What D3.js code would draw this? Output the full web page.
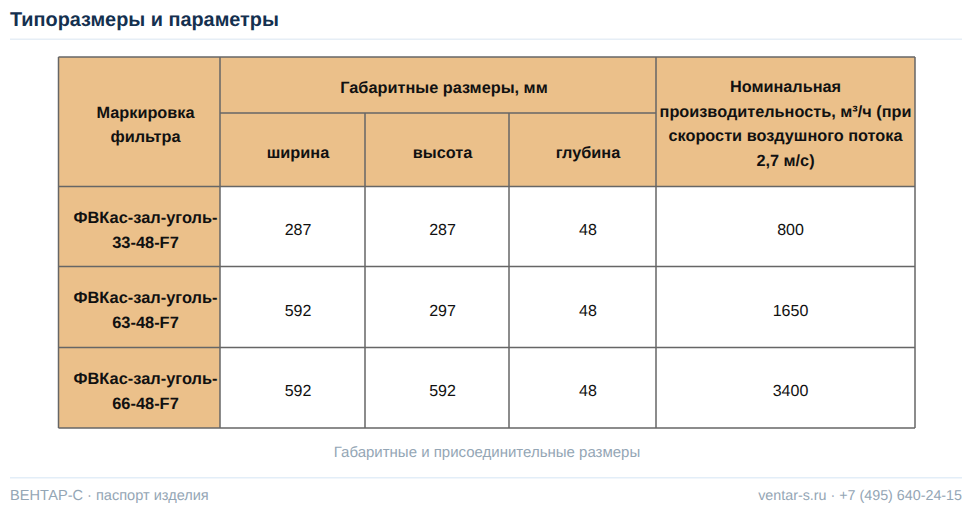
<!DOCTYPE html>
<html><head><meta charset="utf-8">
<script src="https://cdn.jsdelivr.net/npm/d3@7"></script>
<style>html,body{margin:0;padding:0;background:#fff}svg{display:block}text{font-family:"Liberation Sans",Arial,sans-serif;text-rendering:geometricPrecision}</style>
</head><body><svg id="c" width="972" height="513"></svg>
<script>
const filters=[["ФВКас-зал-уголь-","33-48-F7"],["ФВКас-зал-уголь-","63-48-F7"],["ФВКас-зал-уголь-","66-48-F7"]];
const widths=[287,592,592];
const heights=[287,297,592];
const depths=[48,48,48];
const flows=[800,1650,3400];
const subHeaders=["ширина","высота","глубина"];
const markHeader=["Маркировка","фильтра"];
const groupHeader="Габаритные размеры, мм";
const flowHeader=["Номинальная","производительность, м³/ч (при","скорости воздушного потока","2,7 м/с)"];
const title="Типоразмеры и параметры",caption="Габаритные и присоединительные размеры",footL="ВЕНТАР-С · паспорт изделия",footR="ventar-s.ru · +7 (495) 640-24-15";

const xEdge=[58.5,220,365,509,656,915];
const yEdge=[57,113,186.5,266.5,347.5,428];
const headFill="#ebc08a",line="#666",bold=700;
const svg=d3.select("#c");
const label=(x,y,t,o={})=>svg.append("text").attr("x",x).attr("y",y).attr("text-anchor",o.a||"middle")
  .attr("font-size",o.s||16).attr("font-weight",o.w||400).attr("fill",o.c||"#111").text(t);
const rect=(x0,y0,x1,y1,f)=>svg.append("rect").attr("x",x0).attr("y",y0).attr("width",x1-x0).attr("height",y1-y0).attr("fill",f);

label(10,26,title,{a:"start",s:19.85,w:bold,c:"#14304f"});
rect(10,38.5,962,40,"#e6eef6");
rect(10,477,962,478.5,"#e3eef8");

const midX=i=>(xEdge[i]+xEdge[i+1])/2+5.5, midY=i=>(yEdge[i]+yEdge[i+1])/2;
rect(xEdge[0],yEdge[0],xEdge[5],yEdge[2],headFill);
rect(xEdge[0],yEdge[2],xEdge[1],yEdge[5],headFill);

const seg=(x1,y1,x2,y2)=>svg.append("line").attr("x1",x1).attr("y1",y1).attr("x2",x2).attr("y2",y2).attr("stroke",line).attr("stroke-width",1.5);
[0,5].forEach(i=>seg(xEdge[i],yEdge[0],xEdge[i],yEdge[5]));
[1,4].forEach(i=>seg(xEdge[i],yEdge[0],xEdge[i],yEdge[5]));
[2,3].forEach(i=>seg(xEdge[i],yEdge[1],xEdge[i],yEdge[5]));
[0,2,3,4,5].forEach(i=>seg(xEdge[0],yEdge[i],xEdge[5],yEdge[i]));
seg(xEdge[1],yEdge[1],xEdge[4],yEdge[1]);

const headOpt={w:bold,s:16.3};
markHeader.forEach((t,i)=>label(145.5,118+i*24,t,headOpt));
label(444,93,groupHeader,headOpt);
subHeaders.forEach((t,i)=>label(midX(i+1),158,t,headOpt));
flowHeader.forEach((t,i)=>label(785.5,92+i*24.7,t,headOpt));

filters.forEach((f,r)=>{
  const cy=midY(r+2);
  f.forEach((t,i)=>label(145.5,cy-4+i*25.2,t,{w:bold,s:16.4}));
  [widths,heights,depths].forEach((arr,c)=>label(midX(c+1),cy+8.7,arr[r],{s:16}));
  label(midX(4)-0.5,cy+8.7,flows[r],{s:16});
});
label(487,457,caption,{s:15,c:"#94a6b5"});
label(10,500,footL,{a:"start",s:14.55,c:"#94a6b5"});
label(962,500,footR,{a:"end",s:14.3,c:"#94a6b5"});
</script></body></html>
